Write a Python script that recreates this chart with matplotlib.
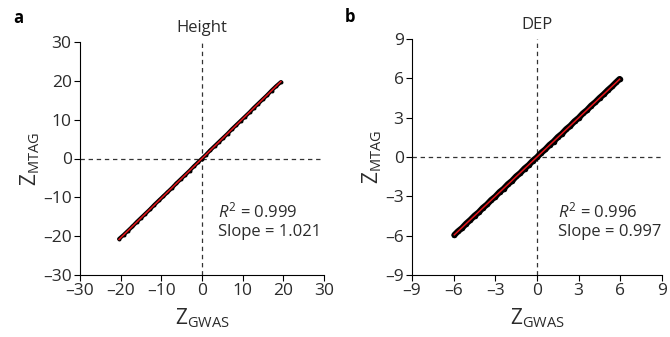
import matplotlib
matplotlib.use("Agg")
import matplotlib.pyplot as plt
import numpy as np

plt.rcParams['font.family'] = ['Open Sans', 'DejaVu Sans']
plt.rcParams['mathtext.fontset'] = 'custom'
plt.rcParams['mathtext.rm'] = 'Open Sans'
plt.rcParams['mathtext.it'] = 'Open Sans:italic'

# ---- Data ----
height_x = [-20.4, -19.3, -18.2, -17.1, -16.0, -15.0, -13.9, -12.8, -11.7, -10.6,
            -9.5, -8.5, -7.4, -6.3, -5.2, -4.1, -3.0, -2.0, -1.0, 0.0,
            1.0, 2.0, 3.1, 4.1, 5.2, 6.3, 7.4, 8.4, 9.5, 10.6,
            11.7, 12.7, 13.8, 14.9, 16.0, 17.1, 18.2, 19.4]
height_y = [-20.7, -19.7, -18.6, -17.5, -16.3, -15.3, -14.2, -13.1, -11.9, -10.8,
            -9.7, -8.7, -7.6, -6.4, -5.3, -4.2, -3.1, -2.0, -1.0, 0.0,
            1.0, 2.1, 3.2, 4.2, 5.3, 6.4, 7.6, 8.6, 9.7, 10.8,
            11.9, 13.0, 14.1, 15.2, 16.3, 17.5, 18.6, 19.7]
dep_x = [-5.95, -5.7, -5.4, -5.1, -4.8, -4.5, -4.2, -3.9, -3.6, -3.3, -3.0,
         -2.7, -2.4, -2.1, -1.8, -1.5, -1.2, -0.9, -0.6, -0.3, 0.0,
         0.3, 0.6, 0.9, 1.2, 1.5, 1.8, 2.1, 2.4, 2.7, 3.0,
         3.3, 3.6, 3.9, 4.2, 4.5, 4.8, 5.1, 5.4, 5.7, 5.95]
dep_y = [-5.95, -5.68, -5.42, -5.08, -4.8, -4.48, -4.22, -3.88, -3.62, -3.28, -3.02,
         -2.68, -2.42, -2.08, -1.82, -1.48, -1.22, -0.88, -0.62, -0.28, -0.02,
         0.32, 0.58, 0.92, 1.18, 1.52, 1.78, 2.12, 2.38, 2.72, 2.98,
         3.32, 3.58, 3.92, 4.18, 4.5, 4.78, 5.1, 5.38, 5.7, 5.95]

height_r2, height_slope = 0.999, 1.021
dep_r2, dep_slope = 0.996, 0.997

height_ticks = [-30, -20, -10, 0, 10, 20, 30]
dep_ticks = [-9, -6, -3, 0, 3, 6, 9]

TXT = '#2b2b2b'

fig = plt.figure(figsize=(6.7, 3.37), dpi=100)
ax1 = fig.add_axes([80/670, 1-275/337, 244/670, 233/337])
ax2 = fig.add_axes([412/670, 1-275/337, 250/670, 236/337])

panels = [
    (ax1, height_x, height_y, height_r2, height_slope, height_ticks, 'Height', 'a', 2.8, 8, (3.9, -16.0)),
    (ax2, dep_x, dep_y, dep_r2, dep_slope, dep_ticks, 'DEP', 'b', 4.4, 16, (1.5, -4.85)),
]

for ax, xs, ys, r2, slope, ticks, title, lab, lw, ms, tpos in panels:
    lo, hi = ticks[0], ticks[-1]
    ax.set_xlim(lo, hi)
    ax.set_ylim(lo, hi)
    ax.axvline(0, color='#333333', lw=0.9, dashes=(3.5, 3), zorder=1)
    ax.axhline(0, color='#333333', lw=0.9, dashes=(3.5, 3), zorder=1)
    ax.plot(xs, ys, color='black', lw=lw, zorder=2, solid_capstyle='round')
    ax.scatter(xs, ys, s=ms, color='black', zorder=2, linewidths=0)
    xf = np.array([min(xs), max(xs)])
    ax.plot(xf, slope * xf, color='#e3161b', lw=1.1, zorder=3)
    ax.set_xticks(ticks)
    ax.set_yticks(ticks)
    ax.set_xticklabels([str(t).replace('-', '\u2013') for t in ticks])
    ax.set_yticklabels([str(t).replace('-', '\u2013') for t in ticks])
    for s in ['top', 'right']:
        ax.spines[s].set_visible(False)
    for s in ['left', 'bottom']:
        ax.spines[s].set_linewidth(0.8)
    ax.tick_params(direction='out', length=4, width=0.8, labelsize=12.5, pad=2,
                   colors='black', labelcolor=TXT)
    ax.set_title(title, fontsize=12, pad=7, color=TXT)
    ax.set_xlabel(r'$\mathrm{Z}_{\mathrm{GWAS}}$', fontsize=15, labelpad=5, color=TXT)
    ax.set_ylabel(r'$\mathrm{Z}_{\mathrm{MTAG}}$', fontsize=15, labelpad=1, color=TXT)
    ax.text(tpos[0], tpos[1], f'$R^2$ = {r2:.3f}\nSlope = {slope:.3f}', fontsize=12,
            ha='left', va='center', linespacing=1.2, color=TXT)

fig.text(13/670, 1-18/337, 'a', fontsize=12, fontweight='bold', va='center', ha='left')
fig.text(345/670, 1-17/337, 'b', fontsize=12, fontweight='bold', va='center', ha='left')

fig.savefig('out.png', dpi=100)
